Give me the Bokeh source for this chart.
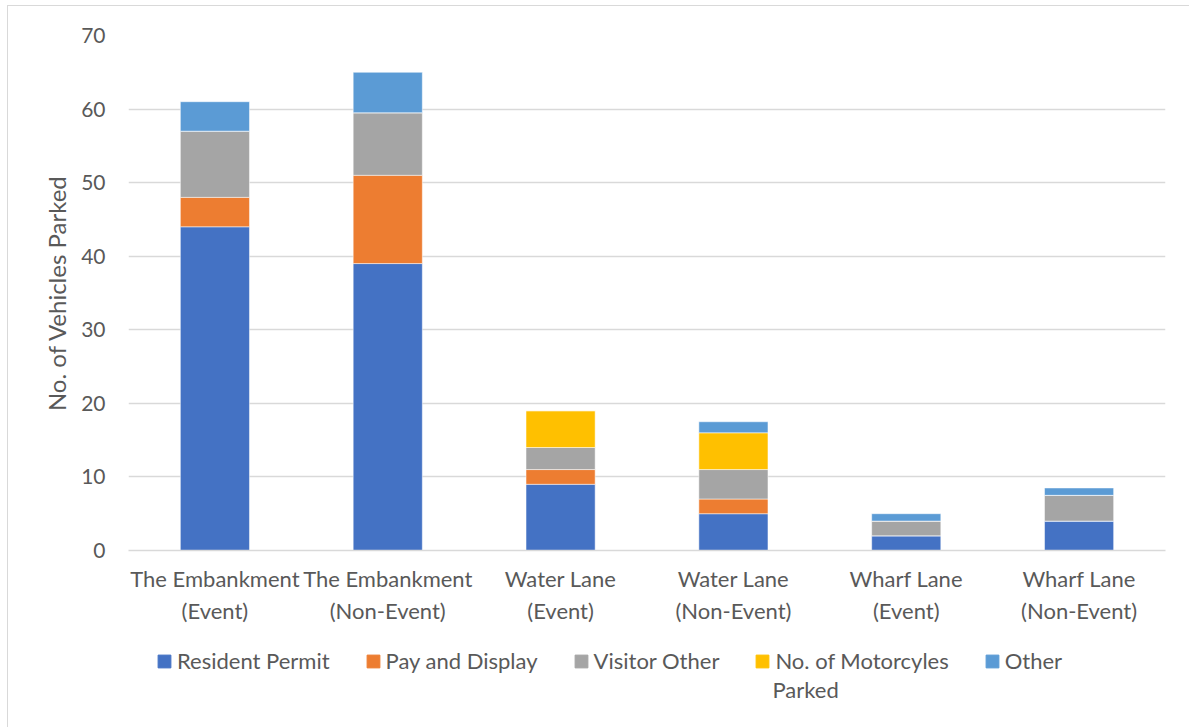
from bokeh.plotting import figure
from bokeh.models import ColumnDataSource, Legend, LegendItem, FactorRange, Label
from bokeh.layouts import column
from bokeh.embed import file_html
from bokeh.resources import INLINE

# Parking survey counts per location / day type
locations = [
    "The Embankment\n(Event)",
    "The Embankment\n(Non-Event)",
    "Water Lane\n(Event)",
    "Water Lane\n(Non-Event)",
    "Wharf Lane\n(Event)",
    "Wharf Lane\n(Non-Event)",
]
resident_permit = [44, 39, 9, 5, 2, 4]
pay_and_display = [4, 12, 2, 2, 0, 0]
visitor_other = [9, 8.5, 3, 4, 2, 3.5]
motorcycles = [0, 0, 5, 5, 0, 0]
other = [4, 5.5, 0, 1.5, 1, 1]

series = ["Resident Permit", "Pay and Display", "Visitor Other",
          "No. of Motorcyles", "Other"]
keys = ["resident", "pay", "visitor", "moto", "other"]
colors = ["#4472C4", "#ED7D31", "#A5A5A5", "#FFC000", "#5B9BD5"]

source = ColumnDataSource(dict(
    loc=locations,
    resident=resident_permit,
    pay=pay_and_display,
    visitor=visitor_other,
    moto=motorcycles,
    other=other,
))

FONT = "Lato"
TEXT = "#595959"
GRID = "#d9d9d9"
EDGE = "1px solid #d9d9d9"

# --- main chart -----------------------------------------------------------
p = figure(
    x_range=FactorRange(*locations, range_padding=0),
    y_range=(0, 70),
    frame_width=1036, frame_height=514,
    output_backend="svg", toolbar_location=None,
    min_border_left=120, min_border_right=26,
    min_border_top=29, min_border_bottom=85,
    margin=(5, 0, 0, 7),
    styles={"border-left": EDGE, "border-top": EDGE},
)
p.outline_line_color = None

p.vbar_stack(
    keys, x="loc", width=0.4, source=source,
    color=colors, line_color="white", line_width=0.5,
)

p.yaxis.ticker = [0, 10, 20, 30, 40, 50, 60, 70]
p.yaxis.axis_label = "No. of Vehicles Parked"
p.yaxis.axis_label_text_font = FONT
p.yaxis.axis_label_text_font_size = "24px"
p.yaxis.axis_label_text_font_style = "normal"
p.yaxis.axis_label_text_color = TEXT
p.yaxis.axis_label_standoff = 7
p.yaxis.axis_line_color = None
p.yaxis.major_tick_line_color = None
p.yaxis.minor_tick_line_color = None
p.yaxis.major_label_standoff = 17
p.yaxis.major_label_text_font = FONT
p.yaxis.major_label_text_font_size = "21px"
p.yaxis.major_label_text_color = TEXT

p.xaxis.axis_line_color = GRID
p.xaxis.axis_line_width = 1.5
p.xaxis.major_tick_line_color = None
p.xaxis.minor_tick_line_color = None
p.xaxis.major_label_standoff = 8
p.xaxis.major_label_text_font = FONT
p.xaxis.major_label_text_font_size = "22px"
p.xaxis.major_label_text_color = TEXT

p.xgrid.grid_line_color = None
p.ygrid.grid_line_color = GRID
p.ygrid.grid_line_width = 1.5

# --- legend strip (its frame lines up with the chart frame above) ----------
leg = figure(
    width=1182, height=94,
    x_range=FactorRange(*locations), y_range=(0, 1),
    x_axis_location=None, y_axis_location=None,
    output_backend="svg", toolbar_location=None,
    min_border=0, margin=(0, 0, 0, 7),
    styles={"border-left": EDGE},
)
leg.grid.visible = False
leg.outline_line_color = None

# hidden copies of the series that only feed the legend swatches
swatches = leg.vbar_stack(keys, x="loc", width=0.4, source=source, color=colors)
for r in swatches:
    r.visible = False

items = [LegendItem(label=s, renderers=[r]) for s, r in zip(series, swatches)]
legend = Legend(
    items=items, orientation="horizontal", location=(28, 54),
    label_text_font=FONT, label_text_font_size="22px", label_text_color=TEXT,
    glyph_width=16, glyph_height=16, label_standoff=5, spacing=35,
    padding=0, margin=0, border_line_color=None, background_fill_alpha=0,
    click_policy="none",
)
leg.add_layout(legend, "center")

# second line of the motorcycle entry
leg.add_layout(Label(
    x=644, y=39, x_units="screen", y_units="screen", text="Parked",
    text_font=FONT, text_font_size="22px", text_color=TEXT,
    text_baseline="middle", text_align="left",
))

layout = column(p, leg, spacing=0)
open("out.html", "w").write(file_html(layout, INLINE))
